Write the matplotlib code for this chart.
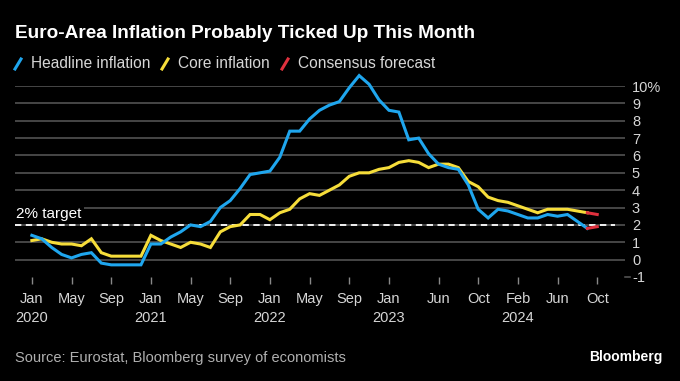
import numpy as np
import matplotlib
matplotlib.use('Agg')
from matplotlib import pyplot as plt
from matplotlib.lines import Line2D

# monthly data, Jan 2020 .. Sep 2024 (% y/y)
headline = [1.4, 1.2, 0.7, 0.3, 0.1, 0.3, 0.4, -0.2, -0.3, -0.3, -0.3, -0.3,
            0.9, 0.9, 1.3, 1.6, 2.0, 1.9, 2.2, 3.0, 3.4, 4.1, 4.9, 5.0,
            5.1, 5.9, 7.4, 7.4, 8.1, 8.6, 8.9, 9.1, 9.9, 10.6, 10.1, 9.2,
            8.6, 8.5, 6.9, 7.0, 6.1, 5.5, 5.3, 5.2, 4.3, 2.9, 2.4, 2.9,
            2.8, 2.6, 2.4, 2.4, 2.6, 2.5, 2.6, 2.2, 1.8]
core = [1.1, 1.2, 1.0, 0.9, 0.9, 0.8, 1.2, 0.4, 0.2, 0.2, 0.2, 0.2,
        1.4, 1.1, 0.9, 0.7, 1.0, 0.9, 0.7, 1.6, 1.9, 2.0, 2.6, 2.6,
        2.3, 2.7, 2.9, 3.5, 3.8, 3.7, 4.0, 4.3, 4.8, 5.0, 5.0, 5.2,
        5.3, 5.6, 5.7, 5.6, 5.3, 5.5, 5.5, 5.3, 4.5, 4.2, 3.6, 3.4,
        3.3, 3.1, 2.9, 2.7, 2.9, 2.9, 2.9, 2.8, 2.7]
forecast_headline = [1.8, 1.9]   # Sep 2024 -> Oct 2024
forecast_core = [2.7, 2.6]

tick_months = [0, 4, 8, 12, 16, 20, 24, 28, 32, 36, 41, 45, 49, 53, 57]
tick_labels = ['Jan\n2020', 'May', 'Sep', 'Jan\n2021', 'May', 'Sep', 'Jan\n2022', 'May', 'Sep',
               'Jan\n2023', 'Jun', 'Oct', 'Feb\n2024', 'Jun', 'Oct']
y_ticks = list(range(-1, 11))
y_labels = ['-1'] + [str(v) for v in range(0, 10)] + ['10%']

BLUE = '#1fa6ee'
YELLOW = '#f6dd3a'
RED = '#e0313e'
GRID = '#5a5a5a'
TXT = '#d6d6d6'

plt.rcParams['font.family'] = ['Liberation Sans', 'DejaVu Sans']

W, H = 680, 381
fig = plt.figure(figsize=(W / 100, H / 100), dpi=100, facecolor='black')
left, right, top, bottom = 15, 625, 86, 277
ax = fig.add_axes([left / W, 1 - bottom / H, (right - left) / W, (bottom - top) / H])
ax.set_facecolor('black')

x = np.arange(len(headline))
fx = [len(headline) - 1, len(headline)]
ax.set_xlim(-1.7, 59.8)
ax.set_ylim(-1, 10)

for v in range(0, 11):
    ax.axhline(v, color=GRID, lw=1.1, zorder=1)
ax.plot([-1.7, 58.8], [2, 2], color='white', lw=1.3, ls=(0, (3.5, 2.5)), zorder=2)
ax.text(-1.6, 2.2, '2% target', color='white', fontsize=11, ha='left', va='bottom',
        bbox=dict(facecolor='black', edgecolor='none', pad=1.5), zorder=3)

ax.plot(x, core, color=YELLOW, lw=2.2, zorder=4, clip_on=False, solid_joinstyle='miter')
ax.plot(x, headline, color=BLUE, lw=2.2, zorder=5, clip_on=False, solid_joinstyle='miter')
ax.plot(fx, forecast_core, color=RED, lw=2.2, zorder=5, clip_on=False)
ax.plot(fx, forecast_headline, color=RED, lw=2.2, zorder=5, clip_on=False)

for s in ax.spines.values():
    s.set_visible(False)
ax.set_xticks(tick_months)
ax.set_xticklabels(tick_labels, color=TXT, fontsize=10.5, linespacing=1.45)
ax.tick_params(axis='x', length=5, width=1, color='#888888', pad=6)
ax.yaxis.tick_right()
ax.set_yticks(y_ticks)
ax.set_yticklabels(y_labels, color=TXT, fontsize=10.5)
ax.tick_params(axis='y', length=0, pad=5)
ax.plot([59.8, 60.3], [-1, -1], color=GRID, lw=1.1, clip_on=False)

# title / legend / footer
fig.text(15 / W, 1 - 33 / H, 'Euro-Area Inflation Probably Ticked Up This Month', color='white',
         fontsize=13.7, fontweight='bold', va='center', ha='left')
legend_items = [('Headline inflation', BLUE, 15), ('Core inflation', YELLOW, 162), ('Consensus forecast', RED, 282)]
for label, col, px in legend_items:
    fig.add_artist(Line2D([px / W, (px + 6) / W], [1 - 69 / H, 1 - 59 / H], color=col, lw=2.2))
    fig.text((px + 16) / W, 1 - 64 / H, label, color=TXT, fontsize=11.2, va='center', ha='left')

fig.text(15 / W, 1 - 358 / H, 'Source: Eurostat, Bloomberg survey of economists', color='#b0b0b0',
         fontsize=10.5, va='center', ha='left')
fig.text(663 / W, 1 - 357 / H, 'Bloomberg', color='white', fontsize=10, fontweight='bold',
         va='center', ha='right')

fig.savefig('out.png', dpi=100, facecolor='black')
